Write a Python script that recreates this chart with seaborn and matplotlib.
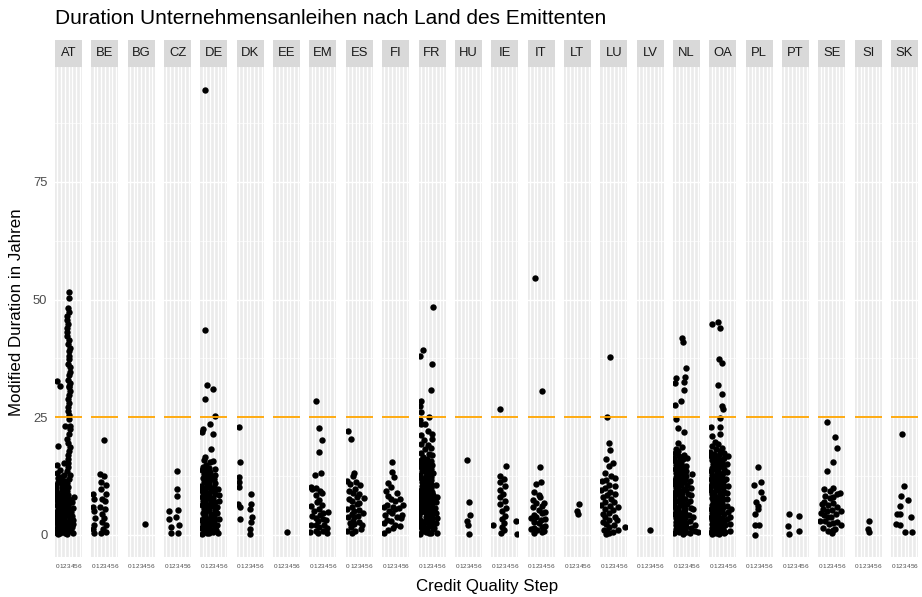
import numpy as np
import pandas as pd
import matplotlib
matplotlib.use("Agg")
import matplotlib.pyplot as plt
from matplotlib.ticker import FixedLocator
import seaborn as sns

# ---------------- data ----------------
COUNTRIES = ["AT", "BE", "BG", "CZ", "DE", "DK", "EE", "EM", "ES", "FI", "FR", "HU",
             "IE", "IT", "LT", "LU", "LV", "NL", "OA", "PL", "PT", "SE", "SI", "SK"]
CQS_LEVELS = [0, 1, 2, 3, 4, 5, 6]
Y_TICKS = [0, 25, 50, 75]
THRESHOLD = 25

AT = {0: [32.6, 18.9, 14.8, 13.2, 12.0, 11.3, 10.6, 10.0, 9.4, 8.8, 8.1, 7.5, 7.0, 6.4, 5.9, 5.3, 4.8,
          4.2, 3.7, 3.1, 2.6, 2.0, 1.5, 1.0, 0.5, 0.2],
      1: [31.6, 13.8, 12.4, 11.7, 10.9, 10.1, 9.5, 8.7, 8.0, 7.4, 6.8, 6.1, 5.5, 4.9, 4.4, 3.8, 3.3,
          2.7, 2.2, 1.7, 1.2, 0.8, 0.3],
      2: [23.2, 15.2, 12.8, 11.5, 10.8, 9.9, 9.2, 8.5, 7.9, 7.2, 6.6, 6.0, 5.4, 4.7, 4.1, 3.5, 3.0,
          2.4, 1.9, 1.3, 0.9, 0.4],
      3: [51.5, 50.3, 48.2, 47.3, 46.5, 45.6, 44.8, 44.0, 43.1, 42.3, 41.5, 40.6, 39.8, 39.0, 38.1,
          37.3, 36.4, 35.6, 34.7, 33.9, 33.0, 32.2, 31.7, 31.4, 30.5, 29.7, 28.8, 28.0, 27.1, 26.3,
          25.4, 24.6, 23.2, 22.5, 21.4, 20.3, 19.5, 18.6, 17.8, 16.9, 16.1, 15.2, 14.4, 13.5, 12.7,
          11.8, 11.0, 10.1, 9.3, 8.4, 7.6, 6.7, 5.9, 5.0, 4.2, 3.3, 2.5, 1.6, 0.8, 0.2],
      4: [8.0, 6.9, 5.8, 4.9, 4.0, 3.2, 2.4, 1.6, 0.9, 0.3]}
BE = {0: [8.7, 7.6, 6.0, 5.1, 3.6, 2.1, 1.2, 0.4],
      2: [12.9, 11.2, 9.8, 7.6, 5.9, 4.4, 2.8, 1.2, 0.3],
      3: [20.1, 12.5, 10.6, 8.7, 7.1, 5.4, 3.6, 2.1, 0.7]}
BG = {4: [2.3]}
CZ = {1: [5.0, 3.4, 1.6, 0.4],
      3: [13.6, 9.7, 8.2, 5.3, 3.7, 2.0, 0.5]}
DE = {0: [22.5, 21.8, 16.0, 14.5, 13.8, 12.9, 12.1, 11.3, 10.4, 9.6, 8.8, 8.0, 7.1, 6.3, 5.5, 4.7,
          3.9, 3.1, 2.3, 1.5, 0.8, 0.2],
      1: [94.6, 43.5, 31.8, 28.8, 16.5, 14.9, 14.0, 13.2, 12.4, 11.5, 10.7, 9.9, 9.1, 8.3, 7.5, 6.6,
          5.8, 5.0, 4.2, 3.4, 2.6, 1.8, 1.0, 0.3],
      2: [23.5, 18.2, 15.4, 14.2, 13.4, 12.6, 11.7, 10.9, 10.1, 9.3, 8.5, 7.7, 6.9, 6.1, 5.2, 4.4,
          3.6, 2.8, 2.0, 1.2, 0.5],
      3: [30.9, 25.3, 21.4, 15.7, 13.9, 12.8, 11.9, 11.0, 10.2, 9.4, 8.6, 7.8, 7.0, 6.1, 5.3, 4.5,
          3.7, 2.9, 2.1, 1.3, 0.6],
      4: [9.8, 8.4, 7.1, 5.9, 4.6, 3.4, 2.2, 1.1, 0.3]}
DK = {0: [22.9, 15.4, 12.3, 11.2, 10.2, 6.6, 5.9, 3.4],
      3: [8.7, 6.6, 5.5, 3.8, 2.8, 1.3, 0.2]}
EE = {3: [0.6]}
EM = {0: [10.2, 9.7, 6.2, 4.1, 2.0, 0.6],
      1: [28.5, 12.7, 10.0, 8.4, 6.9, 5.0, 3.6, 2.2, 0.8],
      2: [22.7, 17.6, 9.3, 7.4, 5.6, 4.2, 3.0, 1.7, 0.5],
      3: [20.1, 13.2, 8.8, 6.3, 4.7, 3.4, 2.1, 0.9],
      4: [4.9, 3.1, 1.4, 0.4]}
ES = {0: [22.0, 11.5, 9.3, 7.6, 5.4, 3.9, 2.5, 0.8],
      1: [20.4, 12.6, 10.8, 8.9, 7.2, 5.9, 4.4, 3.0, 1.6, 0.3],
      2: [13.1, 11.2, 9.7, 8.1, 6.5, 5.1, 3.7, 2.3, 0.9],
      3: [10.5, 8.7, 6.8, 5.3, 4.0, 2.7, 1.2],
      4: [7.9, 4.6, 2.1]}
FI = {0: [9.4, 5.9, 4.3, 2.6, 0.4],
      1: [11.0, 8.3, 6.4, 5.0, 3.2, 1.1],
      2: [15.5, 13.4, 10.2, 7.7, 6.0, 4.6, 2.9, 1.5],
      3: [12.3, 9.0, 7.1, 5.4, 3.8, 2.2],
      4: [7.6, 5.7, 3.5, 1.8],
      5: [6.3, 4.2]}
FR = {0: [38.1, 28.4, 27.3, 26.1, 24.3, 23.5, 21.2, 19.4, 17.3, 16.0, 15.2, 14.4, 13.6, 12.8, 12.0,
          11.2, 10.4, 9.6, 8.8, 8.0, 7.2, 6.4, 5.6, 4.8, 4.0, 3.2, 2.4, 1.6, 0.8, 0.2],
      1: [39.2, 23.6, 20.1, 18.2, 16.6, 15.8, 15.0, 14.2, 13.4, 12.6, 11.8, 11.0, 10.2, 9.4, 8.6,
          7.8, 7.0, 6.2, 5.4, 4.6, 3.8, 3.0, 2.2, 1.4, 0.6],
      2: [25.0, 22.0, 19.0, 17.1, 16.2, 15.4, 14.6, 13.8, 13.0, 12.2, 11.4, 10.6, 9.8, 9.0, 8.2,
          7.4, 6.6, 5.8, 5.0, 4.2, 3.4, 2.6, 1.8, 1.0, 0.3],
      3: [48.5, 36.4, 30.8, 21.4, 20.3, 18.5, 16.9, 15.6, 14.8, 14.0, 13.2, 12.4, 11.6, 10.8, 10.0,
          9.2, 8.4, 7.6, 6.8, 6.0, 5.2, 4.4, 3.6, 2.8, 2.0, 1.2, 0.5],
      4: [10.5, 8.0, 6.9, 5.8, 4.7, 3.6, 2.5, 1.4, 0.5]}
HU = {3: [16.0, 7.0, 4.2, 3.0, 2.0, 0.2]}
IE = {0: [2.0],
      2: [26.7, 12.6, 11.2, 9.5, 8.1, 6.6, 5.0, 3.4, 1.7, 0.4],
      3: [14.7, 11.8, 10.3, 8.7, 7.2, 5.8, 4.1, 2.6, 1.0],
      6: [3.0, 0.1]}
IT = {0: [3.6, 1.2],
      1: [54.5, 9.2, 7.5, 5.9, 4.3, 2.8, 1.4, 0.3],
      2: [10.8, 8.4, 6.7, 5.2, 3.9, 2.5, 1.1],
      3: [30.5, 14.4, 11.3, 8.0, 6.2, 4.6, 3.1, 1.7, 0.6],
      4: [6.8, 4.9, 3.3, 1.9, 0.8]}
LT = {3: [6.5, 5.1, 4.4]}
LU = {0: [11.5, 9.6, 8.0, 6.3, 4.5, 2.8, 1.1],
      1: [25.0, 16.2, 13.1, 11.6, 10.0, 8.5, 7.0, 5.4, 3.9, 2.4, 0.9, 0.2],
      2: [37.7, 19.6, 18.1, 14.6, 12.5, 10.7, 9.1, 7.6, 6.1, 4.6, 3.1, 1.6, 0.4],
      3: [15.2, 12.0, 10.3, 8.6, 6.9, 5.3, 3.7, 2.1, 0.7],
      4: [6.0, 3.2, 1.0],
      6: [1.6]}
LV = {3: [1.0]}
NL = {0: [33.3, 32.2, 27.5, 24.6, 18.2, 17.3, 16.4, 15.6, 14.8, 14.0, 13.2, 12.4, 11.6, 10.8, 10.0,
          9.2, 8.4, 7.6, 6.8, 6.0, 5.2, 4.4, 3.6, 2.8, 2.0, 1.2, 0.4],
      1: [22.7, 19.5, 17.8, 16.8, 15.9, 15.1, 14.3, 13.5, 12.7, 11.9, 11.1, 10.3, 9.5, 8.7, 7.9,
          7.1, 6.3, 5.5, 4.7, 3.9, 3.1, 2.3, 1.5, 0.7],
      2: [41.9, 40.9, 32.5, 30.8, 28.5, 21.8, 18.7, 17.0, 16.1, 15.3, 14.5, 13.7, 12.9, 12.1, 11.3,
          10.5, 9.7, 8.9, 8.1, 7.3, 6.5, 5.7, 4.9, 4.1, 3.3, 2.5, 1.7, 0.9, 0.2],
      3: [35.4, 33.5, 16.3, 14.7, 13.6, 12.6, 11.6, 10.6, 9.6, 8.6, 7.6, 6.6, 5.6, 4.6, 3.6, 2.6,
          1.6, 0.6],
      4: [13.0, 11.4, 9.9, 8.5, 7.1, 5.7, 4.3, 2.9, 1.5, 0.4],
      5: [5.5, 3.8, 2.2, 0.9],
      6: [0.6]}
OA = {0: [44.7, 23.0, 21.0, 18.9, 17.6, 16.7, 15.9, 15.1, 14.3, 13.5, 12.7, 11.9, 11.1, 10.3, 9.5,
          8.7, 7.9, 7.1, 6.3, 5.5, 4.7, 3.9, 3.1, 2.3, 1.5, 0.7, 0.2],
      1: [19.7, 18.2, 17.1, 16.3, 15.5, 14.7, 13.9, 13.1, 12.3, 11.5, 10.7, 9.9, 9.1, 8.3, 7.5, 6.7,
          5.9, 5.1, 4.3, 3.5, 2.7, 1.9, 1.1, 0.4],
      2: [45.2, 44.0, 37.3, 31.8, 24.9, 23.0, 21.4, 19.3, 17.9, 16.9, 16.0, 15.2, 14.4, 13.6, 12.8,
          12.0, 11.2, 10.4, 9.6, 8.8, 8.0, 7.2, 6.4, 5.6, 4.8, 4.0, 3.2, 2.4, 1.6, 0.8, 0.2],
      3: [36.6, 29.9, 27.4, 26.7, 18.5, 17.3, 16.4, 15.6, 14.8, 14.0, 13.2, 12.4, 11.6, 10.8, 10.0,
          9.2, 8.4, 7.6, 6.8, 6.0, 5.2, 4.4, 3.6, 2.8, 2.0, 1.2, 0.5],
      4: [16.8, 15.0, 13.4, 11.9, 10.4, 9.0, 7.6, 6.2, 4.8, 3.4, 2.0, 0.7],
      5: [5.5, 3.9, 2.3, 0.8]}
PL = {2: [10.7, 6.9, 4.4, 2.0, 0.0],
      3: [14.5, 11.2, 9.2, 6.2, 5.5, 2.2],
      4: [7.8]}
PT = {1: [4.4, 1.9, 0.2],
      4: [4.0, 0.8]}
SE = {0: [6.5, 4.7, 3.0],
      1: [9.7, 8.3, 6.9, 5.6, 4.2, 2.9, 1.5],
      2: [24.0, 13.5, 9.3, 7.8, 6.4, 5.1, 3.7, 2.3, 0.9],
      3: [15.5, 9.9, 8.1, 6.7, 5.3, 3.9, 2.5, 1.1, 0.3],
      4: [20.7, 18.4, 8.7, 6.0, 4.4, 2.8, 1.3],
      5: [9.0, 5.0, 2.2]}
SI = {3: [3.0, 1.3, 0.7]}
SK = {1: [4.4, 2.3],
      2: [21.4, 8.2, 6.1, 4.4, 2.0],
      3: [10.3, 0.7],
      4: [7.5],
      5: [3.9, 0.7]}

DATA = {"AT": AT, "BE": BE, "BG": BG, "CZ": CZ, "DE": DE, "DK": DK, "EE": EE, "EM": EM,
        "ES": ES, "FI": FI, "FR": FR, "HU": HU, "IE": IE, "IT": IT, "LT": LT, "LU": LU,
        "LV": LV, "NL": NL, "OA": OA, "PL": PL, "PT": PT, "SE": SE, "SI": SI, "SK": SK}

TITLE = "Duration Unternehmensanleihen nach Land des Emittenten"
XLABEL = "Credit Quality Step"
YLABEL = "Modified Duration in Jahren"

rows = []
for land in COUNTRIES:
    for cqs, vals in DATA[land].items():
        for v in vals:
            rows.append({"land": land, "cqs": cqs, "dur": v})
df = pd.DataFrame(rows)

# ---------------- style / layout ----------------
sns.set_style("white")
plt.rcParams["font.family"] = ["Liberation Sans", "DejaVu Sans"]
np.random.seed(3)

W, H = 922, 597
fig = plt.figure(figsize=(W / 100, H / 100), dpi=100)

PANEL_TOP, PANEL_BOT = 67, 557
STRIP_TOP = 40
LEFT0, STEP, PW = 55, 36.35, 27.0

for i, land in enumerate(COUNTRIES):
    left = LEFT0 + i * STEP
    ax = fig.add_axes([left / W, 1 - PANEL_BOT / H, PW / W, (PANEL_BOT - PANEL_TOP) / H])
    sub = df[df["land"] == land]
    sns.stripplot(data=sub, x="cqs", y="dur", order=CQS_LEVELS, jitter=0.4,
                  color="black", size=4.6, linewidth=0, ax=ax, zorder=3)
    ax.axhline(THRESHOLD, color="#FFA500", lw=1.3, zorder=5)
    ax.set_facecolor("#EBEBEB")
    ax.set_xlim(-0.6, 6.6)
    ax.set_ylim(-4.7, 99.4)
    ax.set_yticks(Y_TICKS)
    ax.yaxis.set_minor_locator(FixedLocator([12.5, 37.5, 62.5, 87.5]))
    ax.set_xticks(range(len(CQS_LEVELS)))
    ax.set_xticklabels([str(c) for c in CQS_LEVELS])
    ax.set_axisbelow(True)
    ax.grid(True, which="major", color="white", lw=1.0)
    ax.grid(True, which="minor", axis="y", color="white", lw=0.5)
    for s in ax.spines.values():
        s.set_visible(False)
    ax.set_xlabel("")
    ax.set_ylabel("")
    ax.tick_params(axis="x", length=3.5, width=0.8, color="#333333", labelsize=4.6,
                   labelcolor="#4D4D4D", pad=1.2)
    ax.tick_params(axis="y", which="minor", length=0)
    if i == 0:
        ax.tick_params(axis="y", length=3.5, width=0.8, color="#333333", labelsize=9.4,
                       labelcolor="#4D4D4D", pad=2)
    else:
        ax.tick_params(axis="y", left=False, labelleft=False)

    sax = fig.add_axes([left / W, 1 - PANEL_TOP / H, PW / W, (PANEL_TOP - STRIP_TOP) / H])
    sax.set_facecolor("#D9D9D9")
    sax.set_xticks([])
    sax.set_yticks([])
    for s in sax.spines.values():
        s.set_visible(False)
    sax.text(0.5, 0.5, land, ha="center", va="center", fontsize=9.4, color="#1A1A1A",
             transform=sax.transAxes)

fig.text(LEFT0 / W, 1 - 19 / H, TITLE, ha="left", va="center", fontsize=15, color="black")
fig.text(17 / W, 1 - 312 / H, YLABEL, ha="center", va="center", rotation=90, fontsize=12.2,
         color="black")
fig.text(487 / W, 1 - 587 / H, XLABEL, ha="center", va="center", fontsize=12.2, color="black")

fig.savefig("out.png", dpi=100)
